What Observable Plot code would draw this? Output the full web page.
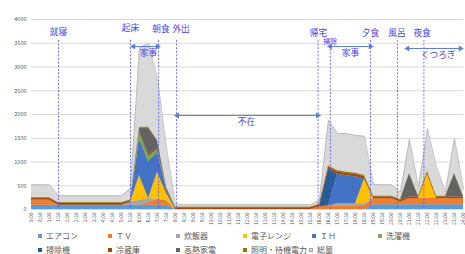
<!DOCTYPE html>
<html><head><meta charset="utf-8">
<script src="https://cdn.jsdelivr.net/npm/d3@7"></script>
<script src="https://cdn.jsdelivr.net/npm/@observablehq/plot@0.6"></script>
<style>
body{margin:0;background:#fff;font-family:"Noto Sans CJK JP","Noto Sans",sans-serif;}
#wrap{position:relative;width:465px;height:254px;overflow:hidden;}
#wrap svg{position:absolute;left:0;top:0;}
.lg{position:absolute;font-size:8px;color:#595959;white-space:nowrap;line-height:10px;height:10px;}
.sw{display:inline-block;width:4px;height:4px;margin-right:4px;vertical-align:1px;}
</style></head><body><div id="wrap"></div>
<script>
const times = ["0:00","0:30","1:00","1:30","2:00","2:30","3:00","3:30","4:00","4:30","5:00","5:30","6:00","6:30","7:00","7:30","8:00","8:30","9:00","9:30","10:00","10:30","11:00","11:30","12:00","12:30","13:00","13:30","14:00","14:30","15:00","15:30","16:00","16:30","17:00","17:30","18:00","18:30","19:00","19:30","20:00","20:30","21:00","21:30","22:00","22:30","23:00","23:30","24:00"];
const yTicks = [0,500,1000,1500,2000,2500,3000,3500,4000];

const names = ["エアコン","ＴＶ","炊飯器","電子レンジ","ＩＨ","洗濯機","掃除機","冷蔵庫","高熱家電","照明・待機電力"];
const colors = ["#5B9BD5","#ED7D31","#A5A5A5","#FFC000","#4472C4","#70AD47","#255E91","#9E480E","#636363","#997300"];
const totalName = "総量";

const aircon   = [90,90,90,90,90,90,90,90,90,90,90,90,90,90,90,90,0,0,0,0,0,0,0,0,0,0,0,0,0,0,0,0,0,0,0,0,0,0,100,100,100,100,100,100,100,100,100,100,100];
const tv       = [110,110,110,0,0,0,0,0,0,0,0,0,0,60,120,100,0,0,0,0,0,0,0,0,0,0,0,0,0,0,0,0,60,80,80,80,80,80,130,130,130,60,130,130,130,130,130,130,130];
const rice     = [0,0,0,0,0,0,0,0,0,0,0,60,100,80,0,0,0,0,0,0,0,0,0,0,0,0,0,0,0,0,0,0,0,0,40,40,40,40,0,0,0,0,0,0,0,0,0,0,0];
const oven     = [0,0,0,0,0,0,0,0,0,0,0,0,525,0,575,150,0,0,0,0,0,0,0,0,0,0,0,0,0,0,0,0,0,0,0,0,0,520,0,0,0,0,0,0,520,0,0,0,0];
const ih       = [0,0,0,0,0,0,0,0,0,0,0,0,780,770,420,80,0,0,0,0,0,0,0,0,0,0,0,0,0,0,0,0,0,0,620,590,570,0,0,0,0,0,0,0,0,0,0,0,0];
const washer   = [0,0,0,0,0,0,0,0,0,0,0,0,120,120,50,0,0,0,0,0,0,0,0,0,0,0,0,0,0,0,0,0,0,0,0,0,0,0,0,0,0,0,0,0,0,0,0,0,0];
const vacuum   = [0,0,0,0,0,0,0,0,0,0,0,0,0,0,0,0,0,0,0,0,0,0,0,0,0,0,0,0,0,0,0,0,0,760,0,0,0,0,0,0,0,0,0,0,0,0,0,0,0];
const fridge   = [35,35,35,35,35,35,35,35,35,35,35,35,35,35,35,35,35,35,35,35,35,35,35,35,35,35,35,35,35,35,35,35,35,50,50,50,50,50,35,35,35,35,35,35,35,35,35,35,35];
const heater   = [0,0,0,0,0,0,0,0,0,0,0,0,60,560,150,0,0,0,0,0,0,0,0,0,0,0,0,0,0,0,0,0,0,0,0,0,0,0,0,0,0,0,480,0,0,0,0,480,0];
const light    = [15,15,15,15,15,15,15,15,15,15,15,15,15,15,15,15,15,15,15,15,15,15,15,15,15,15,15,15,15,15,15,15,15,25,25,25,25,25,15,15,15,15,15,15,15,15,15,15,15];
const total    = [520,520,520,290,290,290,290,290,290,290,290,440,3400,3500,2750,1300,100,100,100,100,100,100,100,100,100,100,100,100,100,100,100,100,200,1880,1600,1600,1560,1540,530,520,520,370,1480,470,1700,900,370,1500,430];

const events      = ["就寝","起床","朝食","外出","帰宅","掃除","夕食","風呂","夜食"];
const eventHours  = [1.5,5.5,7.06,8.06,15.92,16.6,18.83,20.33,21.8];
const spanLabels  = ["家事","不在","家事","くつろぎ"];
const spanStart   = [5.67,8.1,16.6,20.9];
const spanEnd     = [7.0,15.9,18.83,23.83];

// ---------- build tables ----------
const hours = times.map(s => { const [h, m] = s.split(":").map(Number); return h + m / 60; });
const series = [aircon, tv, rice, oven, ih, washer, vacuum, fridge, heater, light];
const rows = [];
names.forEach((n, k) => series[k].forEach((v, i) => rows.push({t: hours[i], series: n, v})));
const totalRows = hours.map((t, i) => ({t, v: total[i]}));

// annotation layout (pixel-read positions converted to data units)
const evLabel = events.map((e, i) => ({
  name: e,
  t: [1.5,5.5,7.19,8.31,15.94,16.6,18.83,20.3,21.7][i],
  y: [3740,3820,3790,3790,3720,3540,3720,3720,3720][i],
  size: e === "掃除" ? 7 : 8.7
}));
const evRules = events.map((e, i) => ({t: eventHours[i], top: e === "掃除" ? 3450 : 3560}));
const spans = spanLabels.map((s, i) => ({
  name: s, x1: spanStart[i], x2: spanEnd[i],
  y: [3430,1980,3430,3390][i],
  lx: [6.5,11.94,17.72,22.6][i],
  ly: [3290,1830,3290,3240][i]
}));
const heads = spans.flatMap(s => [{x: s.x1, y: s.y, r: -90}, {x: s.x2, y: s.y, r: 90}]);

const blue = "#4343ee";
const arrowBlue = "#5b7fd3";
const font = '"Noto Sans CJK JP","Noto Sans",sans-serif';

const chart = Plot.plot({
  width: 465, height: 228,
  marginLeft: 31, marginRight: 2, marginTop: 19, marginBottom: 19,
  style: {fontFamily: font, background: "white", color: "#595959"},
  x: {type: "linear", domain: [0, 24], label: null},
  y: {domain: [0, 4000], label: null},
  color: {domain: names, range: colors},
  marks: [
    Plot.gridY(yTicks, {stroke: "#d9d9d9", strokeOpacity: 1, strokeWidth: 1}),
    Plot.areaY(totalRows, {x: "t", y: "v", fill: "#d9d9d9"}),
    Plot.lineY(totalRows, {x: "t", y: "v", stroke: "#b4b4b4", strokeWidth: 0.8}),
    Plot.areaY(rows, {x: "t", y: "v", z: "series", fill: "series", order: names}),
    Plot.axisY(yTicks, {tickSize: 0, tickPadding: 5, fontSize: 5.5, fill: "#595959", tickFormat: d3.format("d"), label: null}),
    Plot.axisX(hours, {tickSize: 0, tickRotate: -90, tickPadding: 3, fontSize: 5, fill: "#595959",
      tickFormat: d => times[hours.indexOf(d)], label: null}),
    Plot.ruleX(evRules, {x: "t", y1: "top", y2: 0, stroke: "#4d4dff", strokeWidth: 0.8, strokeDasharray: "2,1.6"}),
    Plot.text(evLabel, {x: "t", y: "y", text: "name", fontSize: "size", fill: blue}),
    Plot.link(spans, {x1: "x1", x2: "x2", y1: "y", y2: "y", stroke: arrowBlue, strokeWidth: 1}),
    Plot.dot(heads, {x: "x", y: "y", rotate: "r", symbol: "triangle", r: 2.2, fill: arrowBlue, stroke: "none"}),
    Plot.text(spans, {x: "lx", y: "ly", text: "name", fontSize: 8.7, fill: blue})
  ]
});
const wrap = document.getElementById("wrap");
wrap.appendChild(chart);

// ---------- legend (HTML, below the SVG) ----------
const legendItems = names.map((n, i) => ({name: n, color: colors[i]})).concat([{name: totalName, color: "#d9d9d9", outline: true}]);
const colX = [38, 108, 176, 243, 312, 378];
legendItems.forEach((it, i) => {
  const row = i < 6 ? 0 : 1;
  const col = i < 6 ? i : i - 6;
  const d = document.createElement("div");
  d.className = "lg";
  d.style.left = (row === 1 && col === 4 ? 309 : colX[col]) + "px";
  d.style.top = (row === 0 ? 231 : 245) + "px";
  const sw = document.createElement("span");
  sw.className = "sw";
  sw.style.background = it.color;
  if (it.outline) { sw.style.boxSizing = "border-box"; sw.style.border = "0.8px solid #a6a6a6"; }
  d.appendChild(sw);
  d.appendChild(document.createTextNode(it.name));
  wrap.appendChild(d);
});
</script></body></html>
